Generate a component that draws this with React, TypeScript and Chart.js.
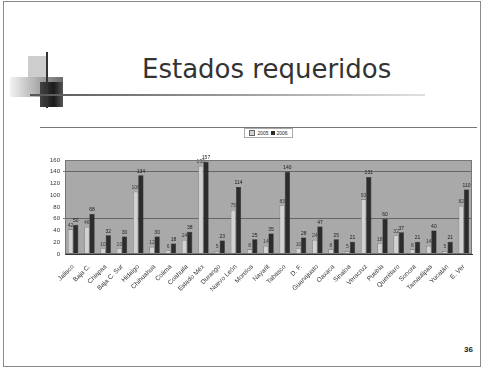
import React, { useEffect, useRef } from "react";
import { Chart, registerables } from "chart.js";

Chart.register(...registerables);

// Estados y número de solicitudes por año
const categories = [
  "Jalisco", "Baja C.", "Chiapas", "Baja C. Sur", "Hidalgo", "Chihuahua",
  "Colima", "Coahuila", "Estado Méx", "Durango", "Nuevo León", "Morelos",
  "Nayarit", "Tabasco", "D. F.", "Guanajuato", "Oaxaca", "Sinaloa",
  "Veracruz", "Puebla", "Querétaro", "Sonora", "Tamaulipas", "Yucatán", "E. Ver",
];
const serie2005 = [42, 46, 10, 10, 106, 12, 6, 24, 150, 5, 75, 8, 14, 83, 10, 24, 8, 5, 93, 18, 32, 8, 14, 5, 82];
const serie2006 = [50, 68, 32, 30, 134, 30, 18, 38, 157, 23, 114, 25, 35, 140, 28, 47, 25, 21, 131, 60, 37, 21, 40, 21, 110];
const seriesNames = ["2005", "2006"];
const yMax = 160;
const yStep = 20;
const markedLines = [60, 140];

const plotFrame = {
  id: "plotFrame",
  beforeDraw(chart: any) {
    const { ctx, chartArea: a } = chart;
    ctx.save();
    ctx.fillStyle = "#a9a9a9";
    ctx.fillRect(a.left, a.top, a.right - a.left, a.bottom - a.top);
    ctx.restore();
  },
  afterDraw(chart: any) {
    const { ctx, chartArea: a } = chart;
    ctx.save();
    ctx.strokeStyle = "#777";
    ctx.lineWidth = 1;
    ctx.strokeRect(a.left + 0.5, a.top + 0.5, a.right - a.left - 1, a.bottom - a.top - 1);
    ctx.restore();
  },
};

const valueLabels = {
  id: "valueLabels",
  afterDatasetsDraw(chart: any) {
    const { ctx } = chart;
    ctx.save();
    ctx.font = "5px 'Liberation Sans', Arial, sans-serif";
    ctx.textAlign = "center";
    ctx.textBaseline = "bottom";
    chart.data.datasets.forEach((ds: any, di: number) => {
      const meta = chart.getDatasetMeta(di);
      meta.data.forEach((bar: any, i: number) => {
        ctx.fillStyle = di === 0 ? "#3a3a3a" : "#1a1a1a";
        ctx.fillText(String(ds.data[i]), bar.x, bar.y - 1.5);
      });
    });
    ctx.restore();
  },
};

function BarChart() {
  const ref = useRef<HTMLCanvasElement | null>(null);
  useEffect(() => {
    if (!ref.current) return;
    const chart = new Chart(ref.current, {
      type: "bar",
      data: {
        labels: categories,
        datasets: [
          {
            label: seriesNames[0],
            data: serie2005,
            backgroundColor: "#d2d2d2",
            borderColor: "#6e6e6e",
            borderWidth: 0.6,
            barPercentage: 1,
            categoryPercentage: 0.64,
          },
          {
            label: seriesNames[1],
            data: serie2006,
            backgroundColor: "#2c2c2c",
            borderColor: "#111",
            borderWidth: 0.5,
            barPercentage: 1,
            categoryPercentage: 0.64,
          },
        ],
      },
      options: {
        animation: false,
        responsive: false,
        maintainAspectRatio: false,
        layout: { padding: { left: 0, right: 5, top: 32, bottom: 0 } },
        plugins: { legend: { display: false }, tooltip: { enabled: false } },
        scales: {
          x: {
            grid: { display: false },
            border: { color: "#333", width: 1 },
            ticks: {
              autoSkip: false,
              minRotation: 45,
              maxRotation: 45,
              color: "#333",
              padding: 1,
              font: { size: 6.5, family: "'Liberation Sans', Arial, sans-serif" },
            },
            afterFit(s: any) {
              s.height = 64;
            },
          },
          y: {
            min: 0,
            max: yMax,
            ticks: {
              stepSize: yStep,
              color: "#333",
              padding: 3,
              font: { size: 6, family: "'Liberation Sans', Arial, sans-serif" },
            },
            border: { color: "#555", width: 1 },
            grid: {
              drawTicks: true,
              tickLength: 2,
              color: (c: any) =>
                c.tick && markedLines.includes(c.tick.value) ? "#555" : "rgba(0,0,0,0)",
              lineWidth: 0.8,
            },
            afterFit(s: any) {
              s.width = 25;
            },
          },
        },
      },
      plugins: [plotFrame, valueLabels],
    });
    return () => chart.destroy();
  }, []);
  return <canvas ref={ref} width={437} height={190} style={{ position: "absolute", left: 40, top: 128 }} />;
}

export default function App() {
  const abs = (s: React.CSSProperties): React.CSSProperties => ({ position: "absolute", ...s });
  return (
    <div style={abs({ left: 0, top: 0, width: 483, height: 368, background: "#fff", overflow: "hidden" })}>
      <div style={abs({ left: 3, top: 1, width: 476, height: 364, border: "1px solid #8a8a8a" })} />
      {/* decoración del encabezado */}
      <div style={abs({ left: 28, top: 56, width: 19, height: 21, background: "#cdcdcd" })} />
      <div style={abs({ left: 10, top: 77, width: 53, height: 20, background: "linear-gradient(to right, #f2f2f2, #6a6a6a)" })} />
      <div style={abs({ left: 40, top: 82, width: 23, height: 25, background: "linear-gradient(to right, #444, #1a1a1a 60%, #555)" })} />
      <div style={abs({ left: 46, top: 52, width: 2, height: 56, background: "#333" })} />
      <div style={abs({ left: 30, top: 94, width: 395, height: 2, background: "linear-gradient(to right, #555, #999 50%, #e0e0e0)" })} />
      <div
        style={abs({
          left: 142,
          top: 56,
          fontFamily: "'DejaVu Sans', Verdana, sans-serif",
          fontSize: 26,
          lineHeight: "26px",
          color: "#333",
          whiteSpace: "nowrap",
        })}
      >
        Estados requeridos
      </div>
      {/* marco del gráfico */}
      <div style={abs({ left: 40, top: 127, width: 437, height: 1, background: "#777" })} />
      <div
        style={abs({
          left: 244,
          top: 128,
          width: 47,
          height: 8,
          border: "1px solid #aaa",
          display: "flex",
          alignItems: "center",
          justifyContent: "center",
          gap: 2,
          fontFamily: "'Liberation Sans', Arial, sans-serif",
          fontSize: 5,
          color: "#222",
          background: "#fff",
        })}
      >
        <span style={{ width: 4, height: 4, background: "#d2d2d2", border: "0.5px solid #666", display: "inline-block" }} />
        <span>{seriesNames[0]}</span>
        <span style={{ width: 4, height: 4, background: "#2c2c2c", display: "inline-block" }} />
        <span>{seriesNames[1]}</span>
      </div>
      <BarChart />
      <div
        style={abs({
          left: 464,
          top: 345,
          fontFamily: "'Liberation Sans', Arial, sans-serif",
          fontSize: 8,
          fontWeight: "bold",
          color: "#222",
        })}
      >
        36
      </div>
    </div>
  );
}
